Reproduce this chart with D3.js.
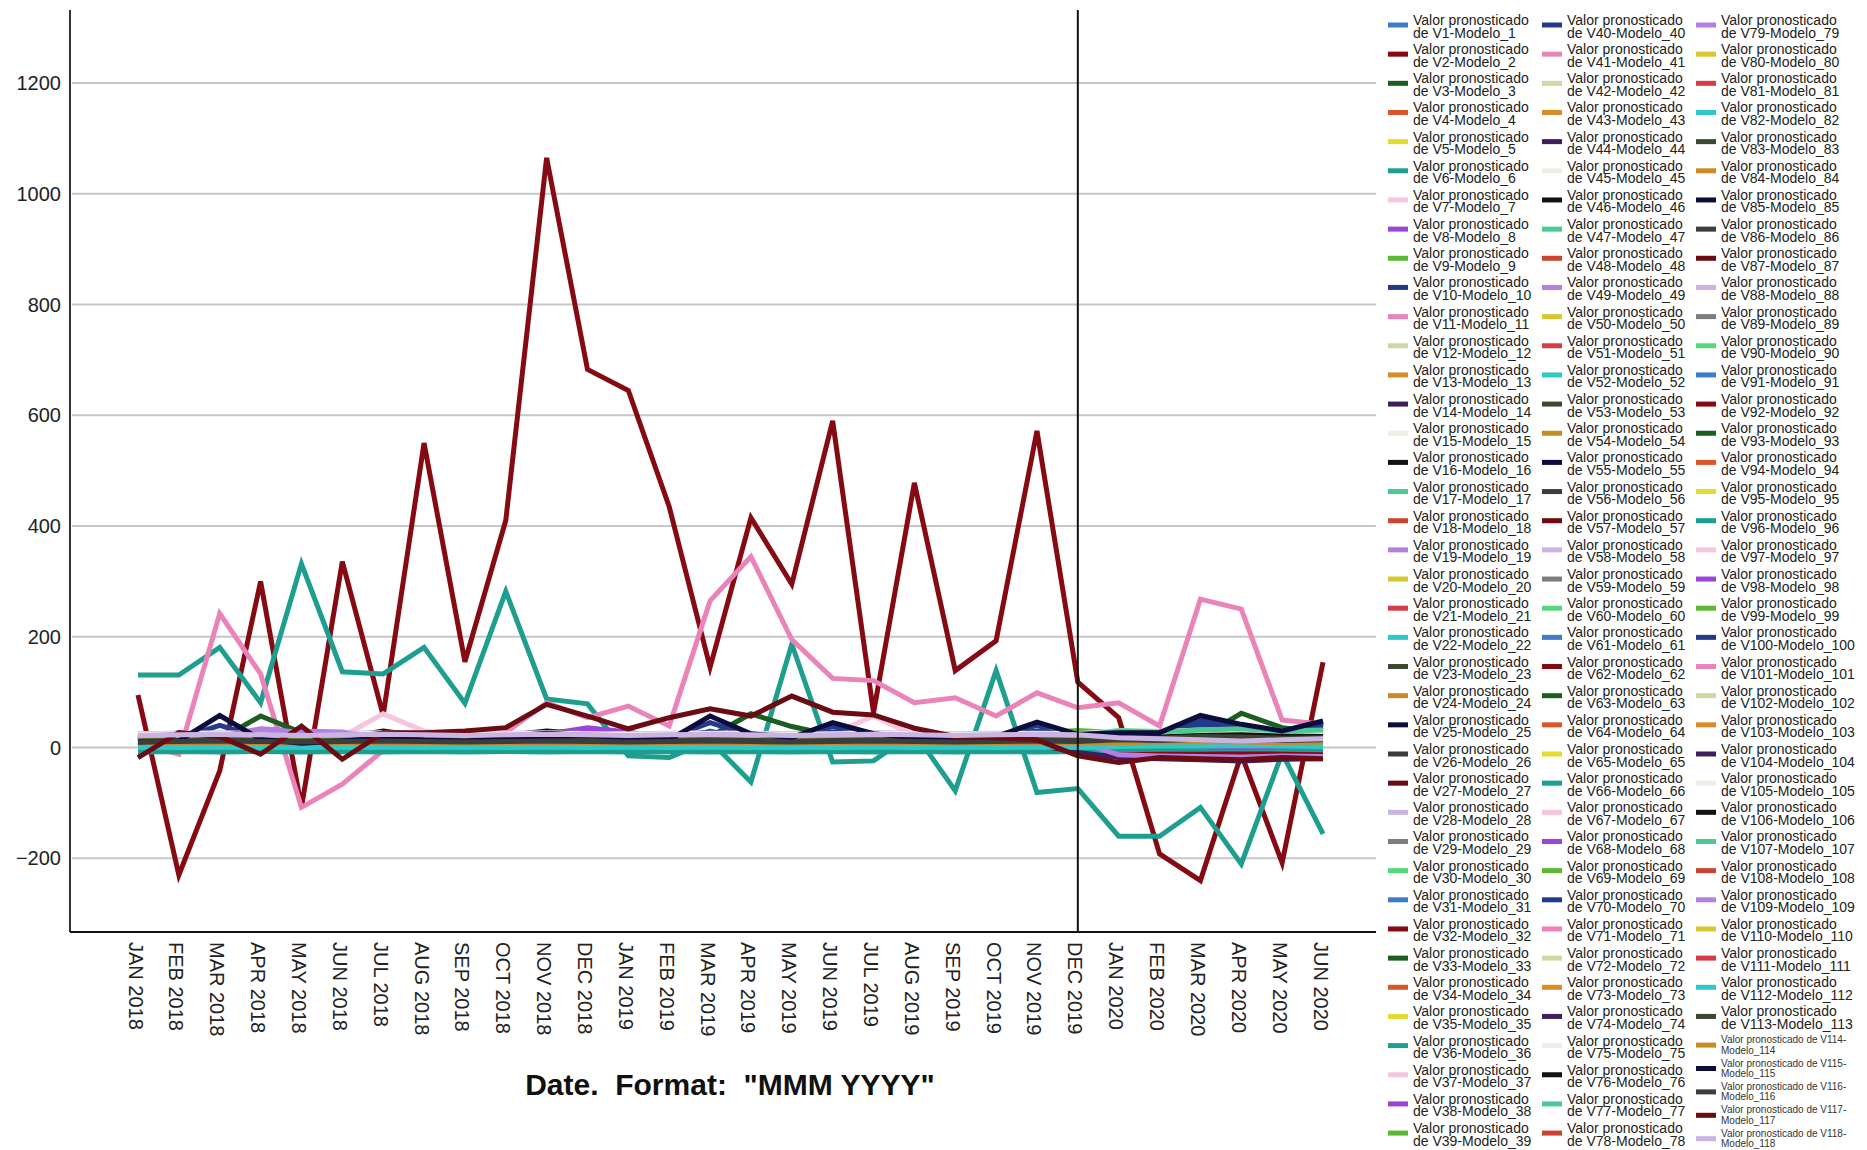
<!DOCTYPE html>
<html>
<head>
<meta charset="utf-8">
<script src="https://cdn.jsdelivr.net/npm/d3@7"></script>
<style>
body { margin: 0; background: #fff; }
text { font-family: "Liberation Sans", Arial, sans-serif; }
</style>
</head>
<body>
<div id="chart"></div>
<script>
// tick labels
var months = ["JAN 2018","FEB 2018","MAR 2018","APR 2018","MAY 2018","JUN 2018","JUL 2018","AUG 2018",
  "SEP 2018","OCT 2018","NOV 2018","DEC 2018","JAN 2019","FEB 2019","MAR 2019","APR 2019","MAY 2019",
  "JUN 2019","JUL 2019","AUG 2019","SEP 2019","OCT 2019","NOV 2019","DEC 2019","JAN 2020","FEB 2020",
  "MAR 2020","APR 2020","MAY 2020","JUN 2020"];
var yTicks = [-200, 0, 200, 400, 600, 800, 1000, 1200];
var markerMonth = "DEC 2019";
var seriesCount = 118;

// SPSS colour cycle (30 colours, repeats)
var palette = ["#3d7cc9","#860a12","#1c5e20","#d9562a","#e2dc30","#1e9e8e","#f6c6df","#9a44d8","#5bb934","#233a8c",
  "#ea84b8","#d2d6a0","#d68d2a","#3e1f5e","#eeeee4","#121212","#4dc890","#c9452e","#b37fe0","#d7c832",
  "#d43c48","#2ec8c8","#3a4832","#c98c24","#0d0d3d","#3d3d3d","#6b0b12","#cbb4e2","#7d7d7d","#55d87c"];

// the series that stand out of the band
var v2   = [95,-230,-42,300,-108,336,58,550,155,410,1065,683,645,435,145,415,295,590,63,478,139,193,572,118,54,-192,-240,-12,-208,154];
var v6   = [131,131,181,81,332,137,133,181,80,282,88,79,-15,-18,12,-62,187,-26,-24,27,-78,139,-81,-74,-160,-160,-108,-210,-10,-156];
var v11  = [8,-12,242,133,-108,-66,-5,20,18,27,81,54,75,39,265,345,195,125,121,81,90,57,99,72,81,39,268,250,50,42];
var v33  = [12,10,15,57,27,14,18,15,12,14,16,14,12,15,20,61,38,22,18,16,14,18,20,22,18,20,18,62,36,27];
var v37  = [5,8,10,12,15,20,61,30,18,12,10,8,10,12,15,18,20,25,57,22,12,10,8,10,12,10,8,10,12,10];
var v115 = [10,12,58,15,8,12,18,14,12,16,20,22,18,14,57,25,18,45,25,18,16,20,46,24,27,27,58,42,30,48];
var v117 = [-18,27,20,-12,39,-21,27,27,30,36,78,57,34,54,70,57,93,64,59,35,20,18,14,-15,-27,-18,-20,-22,-18,-20];

// the near-zero band: [series number, values]
var bandSeries = [
 [1,[6,8,9,7,8,10,9,8,7,9,11,10,8,7,9,10,8,9,8,7,8,9,10,9,12,11,14,12,10,11]],
 [3,[12,11,14,13,12,11,13,12,11,12,14,13,12,11,13,14,12,13,12,11,12,13,14,13,15,14,16,18,15,14]],
 [4,[5,6,7,6,5,6,7,6,5,6,7,6,5,6,7,6,5,6,7,6,5,6,7,6,4,5,6,5,4,5]],
 [5,[8,7,9,8,7,8,9,8,7,8,9,8,7,8,9,8,7,8,9,8,7,8,9,8,10,9,11,10,9,10]],
 [7,[10,9,11,12,10,11,13,12,10,11,12,11,10,11,12,13,11,12,13,11,10,11,12,11,13,12,14,13,12,13]],
 [8,[14,25,18,30,22,20,16,15,14,18,24,36,28,16,14,18,16,15,14,13,14,15,16,15,8,6,4,2,4,5]],
 [9,[12,13,14,16,14,12,13,12,11,13,14,12,11,12,15,18,16,14,13,12,13,14,15,14,20,22,24,28,24,20]],
 [10,[16,17,19,18,16,17,18,17,16,17,19,18,17,16,22,18,17,20,18,17,16,17,20,18,22,23,30,26,22,28]],
 [12,[20,21,22,21,20,22,23,22,21,20,22,21,20,21,22,23,22,21,20,21,22,21,20,22,26,25,28,27,25,26]],
 [13,[8,9,10,9,8,9,10,9,8,9,10,9,8,9,10,9,8,9,10,9,8,9,10,9,10,11,12,11,10,11]],
 [14,[5,6,4,-6,5,6,4,5,6,5,4,6,5,4,6,5,4,5,6,5,4,5,6,-8,-14,-16,-18,-20,-17,-16]],
 [15,[22,23,24,23,22,24,25,23,22,23,24,23,22,23,24,25,24,23,22,23,24,23,22,24,28,27,30,29,27,28]],
 [16,[14,15,16,14,15,18,30,20,18,22,30,24,18,16,18,20,22,24,26,22,18,20,22,20,18,17,20,22,19,18]],
 [17,[16,17,18,17,16,17,18,17,16,17,18,17,16,17,18,17,16,17,18,17,16,17,18,20,28,26,30,32,28,30]],
 [18,[6,7,8,7,6,7,8,7,6,7,8,7,6,7,8,7,6,7,8,7,6,7,8,7,5,6,7,6,5,6]],
 [19,[18,27,20,34,30,28,20,18,17,18,20,22,18,17,16,25,20,18,17,16,17,18,17,10,-12,-14,-15,-16,-14,-15]],
 [20,[10,11,12,11,10,11,12,11,10,11,12,11,10,11,12,11,10,11,12,11,10,11,12,11,12,11,13,12,11,12]],
 [21,[8,9,10,9,8,9,10,9,8,9,10,9,8,9,10,9,8,9,10,9,8,9,10,9,7,8,9,8,7,8]],
 [22,[0,1,2,1,0,1,2,1,0,1,2,1,0,1,2,1,0,1,2,1,0,1,2,1,2,1,3,2,1,2]],
 [23,[12,13,14,13,12,13,14,13,12,13,14,13,12,13,14,13,12,13,14,13,12,13,14,13,16,15,18,17,15,16]],
 [24,[8,9,10,9,8,9,10,9,8,9,10,9,8,9,10,9,8,9,10,9,8,9,10,9,9,10,11,10,9,10]],
 [25,[14,15,20,16,15,16,24,18,16,20,26,22,18,16,20,18,16,18,20,18,16,18,20,18,22,20,24,22,20,22]],
 [26,[12,13,14,13,12,13,14,13,12,13,14,13,12,13,14,13,12,13,14,13,12,13,14,13,14,13,15,14,13,14]],
 [27,[5,6,7,6,5,6,7,6,5,6,7,6,5,6,7,6,5,6,7,6,5,6,7,6,-8,-10,-12,-11,-10,-11]],
 [28,[24,25,26,25,24,25,26,25,24,25,26,25,24,25,26,25,24,25,26,25,24,25,26,25,20,18,16,14,16,18]],
 [29,[20,21,22,21,20,21,22,21,20,21,22,21,20,21,22,21,20,21,22,21,20,21,22,22,24,23,25,24,23,24]],
 [30,[18,19,20,19,18,19,20,19,18,19,20,19,18,19,20,19,18,19,20,19,18,19,20,22,30,28,32,34,30,32]],
 [31,[9,10,8,9,10,9,8,10,9,8,10,11,9,8,10,9,8,9,10,9,8,9,10,9,14,13,16,15,12,13]],
 [32,[10,11,12,11,10,12,13,14,12,11,13,12,11,12,13,12,11,12,13,12,14,15,14,12,-6,-8,-10,-9,-8,-9]],
 [34,[4,5,6,5,4,5,6,5,4,5,6,5,4,5,6,5,4,5,6,5,4,5,6,5,3,4,5,4,3,4]],
 [35,[9,8,10,9,8,9,10,9,8,9,10,9,8,9,10,9,8,9,10,9,8,9,10,9,11,10,12,11,10,11]],
 [36,[2,3,2,3,2,3,2,3,2,3,2,3,2,3,2,3,2,3,2,3,2,3,2,3,4,3,5,4,3,4]],
 [38,[12,14,16,15,13,14,16,15,13,14,16,18,16,14,13,15,14,13,14,15,14,13,14,15,6,4,2,0,2,3]],
 [39,[13,14,15,14,13,14,15,14,13,14,15,14,13,14,15,14,13,14,15,14,13,14,15,16,22,24,26,30,26,22]],
 [40,[15,16,40,18,16,17,20,18,17,18,20,21,19,18,45,22,20,38,22,20,18,20,40,22,25,26,52,38,28,45]],
 [41,[6,7,8,7,6,7,8,7,6,7,8,7,6,7,8,7,6,7,8,7,6,7,8,7,8,7,9,8,7,8]],
 [42,[21,22,23,22,21,22,23,22,21,22,23,22,21,22,23,22,21,22,23,22,21,22,23,22,27,26,29,28,26,27]],
 [43,[9,10,11,10,9,10,11,10,9,10,11,10,9,10,11,10,9,10,11,10,9,10,11,10,11,12,13,12,11,12]],
 [44,[4,5,6,5,4,5,6,5,4,5,6,5,4,5,6,5,4,5,6,5,4,5,6,-6,-16,-18,-20,-22,-19,-18]],
 [45,[23,24,25,24,23,24,25,24,23,24,25,24,23,24,25,24,23,24,25,24,23,24,25,24,29,28,31,30,28,29]],
 [46,[15,16,17,16,15,17,22,18,16,18,22,20,17,16,17,18,19,20,21,19,17,18,19,18,19,18,21,22,20,19]],
 [47,[17,18,19,18,17,18,19,18,17,18,19,18,17,18,19,18,17,18,19,18,17,18,19,21,29,27,31,33,29,31]],
 [48,[7,8,9,8,7,8,9,8,7,8,9,8,7,8,9,8,7,8,9,8,7,8,9,8,6,7,8,7,6,7]],
 [49,[16,20,18,26,24,22,18,17,16,17,19,20,17,16,15,22,18,17,16,15,16,17,16,8,-10,-12,-14,-15,-12,-13]],
 [50,[11,12,13,12,11,12,13,12,11,12,13,12,11,12,13,12,11,12,13,12,11,12,13,12,13,12,14,13,12,13]],
 [51,[7,8,9,8,7,8,9,8,7,8,9,8,7,8,9,8,7,8,9,8,7,8,9,8,6,7,8,7,6,7]],
 [52,[4,5,6,5,4,5,6,5,4,5,6,5,4,5,6,5,4,5,6,5,4,5,6,5,6,5,7,6,5,6]],
 [53,[13,14,15,14,13,14,15,14,13,14,15,14,13,14,15,14,13,14,15,14,13,14,15,14,17,16,19,18,16,17]],
 [54,[7,8,9,8,7,8,9,8,7,8,9,8,7,8,9,8,7,8,9,8,7,8,9,8,8,9,10,9,8,9]],
 [55,[13,14,18,15,14,15,22,17,15,18,24,20,17,15,18,17,15,17,18,17,15,17,18,17,21,19,23,21,19,21]],
 [56,[11,12,13,12,11,12,13,12,11,12,13,12,11,12,13,12,11,12,13,12,11,12,13,12,13,12,14,13,12,13]],
 [57,[9,10,11,10,9,10,11,10,9,10,11,10,9,10,11,10,9,10,11,10,9,10,11,10,-4,-6,-8,-7,-6,-7]],
 [58,[23,24,25,24,23,24,25,24,23,24,25,24,23,24,25,24,23,24,25,24,23,24,25,24,19,17,15,13,15,17]],
 [59,[19,20,21,20,19,20,21,20,19,20,21,20,19,20,21,20,19,20,21,20,19,20,21,21,23,22,24,23,22,23]],
 [60,[17,18,19,18,17,18,19,18,17,18,19,18,17,18,19,18,17,18,19,18,17,18,19,21,31,29,33,35,31,33]],
 [61,[8,9,10,9,8,9,10,9,8,9,10,9,8,9,30,12,10,22,12,10,9,10,12,11,15,14,22,18,14,16]],
 [62,[9,10,11,10,9,10,11,10,9,10,11,10,9,10,11,10,9,10,11,10,9,10,11,10,-5,-7,-9,-8,-7,-8]],
 [63,[11,12,13,12,11,12,13,12,11,12,13,12,11,12,13,12,11,12,13,12,11,12,13,12,14,13,15,17,14,13]],
 [64,[5,6,7,6,5,6,7,6,5,6,7,6,5,6,7,6,5,6,7,6,5,6,7,6,4,5,6,5,4,5]],
 [65,[7,8,9,8,7,8,9,8,7,8,9,8,7,8,9,8,7,8,9,8,7,8,9,8,9,8,10,9,8,9]],
 [66,[-6,-5,-6,-5,-6,-5,-6,-5,-6,-5,-6,-5,-6,-5,-6,-5,-6,-5,-6,-5,-6,-5,-6,-5,-3,-2,-2,-1,-2,-3]],
 [67,[9,10,11,10,9,10,12,11,10,11,12,11,10,11,12,12,11,12,14,11,10,11,12,11,12,11,13,12,11,12]],
 [68,[13,15,17,16,14,15,17,16,14,15,17,20,18,15,14,16,15,14,15,16,15,14,15,16,5,3,1,-1,1,2]],
 [69,[11,12,13,12,11,12,13,12,11,12,13,12,11,12,14,16,15,13,12,11,12,13,14,15,21,23,25,29,25,21]],
 [70,[16,17,22,18,17,18,20,19,18,19,21,22,20,19,25,21,19,24,21,19,18,19,24,21,24,25,40,32,27,38]],
 [71,[7,8,9,8,7,8,9,8,7,8,9,8,7,8,9,8,7,8,9,8,7,8,9,8,9,8,10,9,8,9]],
 [72,[19,20,21,20,19,20,21,20,19,20,21,20,19,20,21,20,19,20,21,20,19,20,21,20,25,24,27,26,24,25]],
 [73,[10,11,12,11,10,11,12,11,10,11,12,11,10,11,12,11,10,11,12,11,10,11,12,11,12,13,14,13,12,13]],
 [74,[6,7,5,6,7,6,5,6,7,6,5,7,6,5,7,6,5,6,7,6,5,6,7,-7,-17,-19,-21,-23,-20,-19]],
 [75,[21,22,23,22,21,22,23,22,21,22,23,22,21,22,23,22,21,22,23,22,21,22,23,22,27,26,29,28,26,27]],
 [76,[13,14,15,14,13,15,20,16,14,16,20,18,15,14,15,16,17,18,19,17,15,16,17,16,17,16,19,20,18,17]],
 [77,[15,16,17,16,15,16,17,16,15,16,17,16,15,16,17,16,15,16,17,16,15,16,17,19,27,25,29,31,27,29]],
 [78,[5,6,7,6,5,6,7,6,5,6,7,6,5,6,7,6,5,6,7,6,5,6,7,6,4,5,6,5,4,5]],
 [79,[17,22,19,30,27,25,19,17,16,17,19,21,17,16,15,23,19,17,16,15,16,17,16,9,-11,-13,-14,-15,-13,-14]],
 [80,[9,10,11,10,9,10,11,10,9,10,11,10,9,10,11,10,9,10,11,10,9,10,11,10,11,10,12,11,10,11]],
 [81,[9,10,11,10,9,10,11,10,9,10,11,10,9,10,11,10,9,10,11,10,9,10,11,10,8,9,10,9,8,9]],
 [82,[-4,-3,-4,-3,-4,-3,-4,-3,-4,-3,-4,-3,-4,-3,-4,-3,-4,-3,-4,-3,-4,-3,-4,-3,-1,-2,0,-1,-2,-1]],
 [83,[11,12,13,12,11,12,13,12,11,12,13,12,11,12,13,12,11,12,13,12,11,12,13,12,15,14,17,16,14,15]],
 [84,[9,10,11,10,9,10,11,10,9,10,11,10,9,10,11,10,9,10,11,10,9,10,11,10,10,11,12,11,10,11]],
 [85,[15,16,22,17,16,17,23,19,17,21,25,23,19,17,21,19,17,19,21,19,17,19,21,19,23,21,25,23,21,23]],
 [86,[13,14,15,14,13,14,15,14,13,14,15,14,13,14,15,14,13,14,15,14,13,14,15,14,15,14,16,15,14,15]],
 [87,[20,21,22,21,20,21,22,21,20,21,22,21,20,21,22,21,20,21,22,21,20,21,22,21,-3,-5,-7,-6,-5,-6]],
 [88,[25,26,27,26,25,26,27,26,25,26,27,26,25,26,27,26,25,26,27,26,25,26,27,26,21,19,17,15,17,19]],
 [89,[21,22,23,22,21,22,23,22,21,22,23,22,21,22,23,22,21,22,23,22,21,22,23,23,25,24,26,25,24,25]],
 [90,[19,20,21,20,19,20,21,20,19,20,21,20,19,20,21,20,19,20,21,20,19,20,21,23,29,27,31,33,29,31]],
 [91,[7,8,9,8,7,8,9,8,7,8,9,8,7,8,9,8,7,8,9,8,7,8,9,8,13,12,15,14,11,12]],
 [92,[18,19,20,19,18,19,20,19,18,19,20,19,18,19,20,19,18,19,20,19,18,19,20,19,-7,-9,-11,-10,-9,-10]],
 [93,[13,14,15,14,13,14,15,14,13,14,15,14,13,14,15,14,13,14,15,14,13,14,15,14,16,15,17,19,16,15]],
 [94,[6,7,8,7,6,7,8,7,6,7,8,7,6,7,8,7,6,7,8,7,6,7,8,7,5,6,7,6,5,6]],
 [95,[10,9,11,10,9,10,11,10,9,10,11,10,9,10,11,10,9,10,11,10,9,10,11,10,12,11,13,12,11,12]],
 [96,[-8,-7,-8,-7,-8,-7,-8,-7,-8,-7,-8,-7,-8,-7,-8,-7,-8,-7,-8,-7,-8,-7,-8,-7,-4,-3,-3,-2,-3,-4]],
 [97,[11,12,13,12,11,12,14,13,11,12,13,12,11,12,13,14,12,13,15,12,11,12,13,12,14,13,15,14,13,14]],
 [98,[15,18,17,22,18,17,16,15,14,16,20,28,22,16,15,17,16,15,16,17,16,15,16,17,7,5,3,1,3,4]],
 [99,[14,15,16,15,14,15,16,15,14,15,16,17,16,15,14,13,14,15,16,17,23,25,27,31,27,23]],
 [100,[17,18,24,19,18,19,21,20,19,20,22,23,21,20,28,22,20,28,22,20,19,20,30,22,26,27,46,36,29,42]],
 [101,[5,6,7,6,5,6,7,6,5,6,7,6,5,6,7,6,5,6,7,6,5,6,7,6,7,6,8,7,6,7]],
 [102,[22,23,24,23,22,23,24,23,22,23,24,23,22,23,24,23,22,23,24,23,22,23,24,23,28,27,30,29,27,28]],
 [103,[7,8,9,8,7,8,9,8,7,8,9,8,7,8,9,8,7,8,9,8,7,8,9,8,9,10,11,10,9,10]],
 [104,[3,4,5,4,3,4,5,4,3,4,5,4,3,4,5,4,3,4,5,4,3,4,5,-9,-18,-20,-22,-24,-21,-20]],
 [105,[24,25,26,25,24,25,26,25,24,25,26,25,24,25,26,25,24,25,26,25,24,25,26,25,30,29,32,31,29,30]],
 [106,[16,17,18,17,16,18,26,19,17,20,26,22,18,17,18,19,20,22,23,20,18,19,20,19,20,19,22,23,21,20]],
 [107,[18,19,20,19,18,19,20,19,18,19,20,19,18,19,20,19,18,19,20,19,18,19,20,22,30,28,32,34,30,32]],
 [108,[8,9,10,9,8,9,10,9,8,9,10,9,8,9,10,9,8,9,10,9,8,9,10,9,7,8,9,8,7,8]],
 [109,[19,24,21,32,28,26,21,19,18,19,21,23,19,18,17,24,21,19,18,17,18,19,18,11,-13,-15,-16,-17,-15,-16]],
 [110,[12,13,14,13,12,13,14,13,12,13,14,13,12,13,14,13,12,13,14,13,12,13,14,13,14,13,15,14,13,14]],
 [111,[6,7,8,7,6,7,8,7,6,7,8,7,6,7,8,7,6,7,8,7,6,7,8,7,5,6,7,6,5,6]],
 [112,[1,0,1,0,1,0,1,0,1,0,1,0,1,0,1,0,1,0,1,0,1,0,1,0,2,3,3,4,3,2]],
 [113,[12,13,14,13,12,13,14,13,12,13,14,13,12,13,14,13,12,13,14,13,12,13,14,13,18,17,20,19,17,18]],
 [114,[8,9,10,9,8,9,10,9,8,9,10,9,8,9,10,9,8,9,10,9,8,9,10,9,9,10,11,10,9,10]],
 [116,[10,11,12,11,10,11,12,11,10,11,12,11,10,11,12,11,10,11,12,11,10,11,12,11,14,13,15,14,13,14]],
 [118,[22,23,24,23,22,23,24,23,22,23,24,23,22,23,24,23,22,23,24,23,22,23,24,23,18,16,14,12,14,16]]
];

var standout = {2: v2, 6: v6, 11: v11, 33: v33, 37: v37, 115: v115, 117: v117};
var bandLookup = {};
bandSeries.forEach(function(d) { bandLookup[d[0]] = d[1]; });

var series = d3.range(1, seriesCount + 1).map(function(n) {
  return {
    n: n,
    name1: "Valor pronosticado",
    name2: "de V" + n + "-Modelo_" + n,
    color: palette[(n - 1) % palette.length],
    values: standout[n] || bandLookup[n]
  };
});

var width = 1867, height = 1150;
var plot = {left: 70, right: 1376, top: 10, bottom: 932};

var svg = d3.select("#chart").append("svg")
    .attr("width", width)
    .attr("height", height);

var x = d3.scalePoint().domain(months).range([138, 1323]);
var y = d3.scaleLinear().domain([-333, 1332]).range([plot.bottom, plot.top]);

// gridlines
svg.append("g")
  .selectAll("line")
  .data(yTicks)
  .enter().append("line")
    .attr("x1", plot.left + 2)
    .attr("x2", plot.right)
    .attr("y1", function(d) { return y(d); })
    .attr("y2", function(d) { return y(d); })
    .style("stroke", "#c6c6c6")
    .style("stroke-width", 2);

// lines, V1 first so later series sit on top
var valueline = d3.line()
    .x(function(d, i) { return x(months[i]); })
    .y(function(d) { return y(d); });

svg.append("g")
  .selectAll("path")
  .data(series)
  .enter().append("path")
    .attr("d", function(d) { return valueline(d.values); })
    .style("fill", "none")
    .style("stroke", function(d) { return d.color; })
    .style("stroke-width", 5)
    .style("stroke-linejoin", "miter");

// reference line at DEC 2019
svg.append("line")
    .attr("x1", x(markerMonth)).attr("x2", x(markerMonth))
    .attr("y1", plot.top).attr("y2", plot.bottom)
    .style("stroke", "#111")
    .style("stroke-width", 2);

// y axis
var yAxis = svg.append("g")
    .attr("transform", "translate(" + plot.left + ",0)")
    .call(d3.axisLeft(y).tickValues(yTicks).tickSize(0).tickPadding(9).tickFormat(d3.format("d")));
yAxis.select(".domain").remove();
yAxis.selectAll("text")
    .style("font-size", "20px")
    .style("fill", "#222")
    .style("font-family", "'Liberation Sans', Arial, sans-serif");

svg.append("line")
    .attr("x1", plot.left).attr("x2", plot.left)
    .attr("y1", plot.top).attr("y2", plot.bottom)
    .style("stroke", "#333")
    .style("stroke-width", 2);

// x axis
var xAxis = svg.append("g")
    .attr("transform", "translate(0," + plot.bottom + ")")
    .call(d3.axisBottom(x).tickSize(0));
xAxis.select(".domain").remove();
xAxis.selectAll("text")
    .attr("x", 0)
    .attr("y", 0)
    .attr("dy", "0.35em")
    .attr("transform", "translate(-3,10) rotate(90)")
    .style("text-anchor", "start")
    .style("font-size", "20px")
    .style("fill", "#222")
    .style("font-family", "'Liberation Sans', Arial, sans-serif");

svg.append("line")
    .attr("x1", plot.left).attr("x2", plot.right)
    .attr("y1", plot.bottom).attr("y2", plot.bottom)
    .style("stroke", "#111")
    .style("stroke-width", 2);

// axis title
svg.append("text")
    .attr("x", 730)
    .attr("y", 1095)
    .style("text-anchor", "middle")
    .style("font-size", "30px")
    .style("font-weight", "bold")
    .style("white-space", "pre")
    .style("fill", "#111")
    .text('Date.  Format:  "MMM YYYY"');

// legend: three columns
var colX = [1388, 1542, 1696];
var rowStep = 29.16, firstRow = 25;

function legendPos(n) {
  if (n <= 39) return {col: 0, y: firstRow + (n - 1) * rowStep, small: false};
  if (n <= 78) return {col: 1, y: firstRow + (n - 40) * rowStep, small: false};
  if (n <= 113) return {col: 2, y: firstRow + (n - 79) * rowStep, small: false};
  return {col: 2, y: firstRow + 35 * rowStep - 0.5 + (n - 114) * 23.4, small: true};
}

var legend = svg.selectAll(".legend")
    .data(series)
  .enter().append("g")
    .attr("class", "legend")
    .attr("transform", function(d) {
      var p = legendPos(d.n);
      return "translate(" + colX[p.col] + "," + p.y + ")";
    });

legend.append("rect")
    .attr("x", 0)
    .attr("y", -2.5)
    .attr("width", 20)
    .attr("height", 5)
    .style("fill", function(d) { return d.color; });

legend.each(function(d) {
  var g = d3.select(this);
  var p = legendPos(d.n);
  if (!p.small) {
    g.append("text").attr("x", 25).attr("y", 0)
      .style("font-size", "14px").style("fill", "#222").text(d.name1);
    g.append("text").attr("x", 25).attr("y", 12.5)
      .style("font-size", "14px").style("fill", "#222").text(d.name2);
  } else {
    g.append("text").attr("x", 25).attr("y", -2)
      .style("font-size", "10px").style("fill", "#333").text("Valor pronosticado de V" + d.n + "-");
    g.append("text").attr("x", 25).attr("y", 8.5)
      .style("font-size", "10px").style("fill", "#333").text("Modelo_" + d.n);
  }
});
</script>
</body>
</html>
